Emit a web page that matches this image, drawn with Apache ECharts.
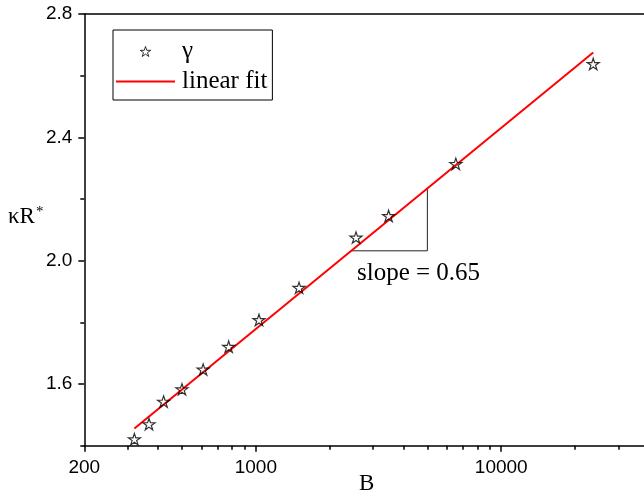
<!DOCTYPE html>
<html>
<head>
<meta charset="utf-8">
<script src="https://cdn.jsdelivr.net/npm/echarts@6/dist/echarts.min.js"></script>
<style>
html,body{margin:0;padding:0;background:#fff;}
#chart{width:644px;height:497px;}
</style>
</head>
<body>
<div id="chart"></div>
<script>
// ---- data ----
const B = [320, 367, 421, 500, 610, 775, 1030, 1500, 2560, 3475, 6530, 23700];
const gamma = [1.421, 1.470, 1.543, 1.583, 1.647, 1.721, 1.808, 1.912, 2.075, 2.145, 2.314, 2.638];
const fitB = [320, 23700];
const fitY = [1.456, 2.675];
const slopeB = [2450, 5000, 5000];
const slopeY = [2.032, 2.032, 2.234];
const xMajor = [200, 1000, 10000];
const xMinor = [300, 400, 500, 600, 700, 800, 900, 2000, 3000, 4000, 5000, 6000, 7000, 8000, 9000, 20000, 30000];
const yMajor = [1.6, 2.0, 2.4, 2.8];
const yMinor = [1.4, 1.8, 2.2, 2.6];
const seriesNames = ['γ', 'linear fit'];
const slopeText = 'slope = 0.65';

const starPath = 'path://M0,-100L22.5,-30.9L95.1,-30.9L36.3,11.8L58.8,80.9L0,38.2L-58.8,80.9L-36.3,11.8L-95.1,-30.9L-22.5,-30.9Z';
const linePath = 'path://M0,0L59,0L59,2L0,2Z';
const zip = (a, b) => a.map((v, i) => [v, b[i]]);

const chart = echarts.init(document.getElementById('chart'), null, {renderer: 'canvas'});
const sans = 'Liberation Sans';
const serif = 'Liberation Serif';
const xCommon = {type: 'log', min: 200, max: 40000, logBase: 10, splitLine: {show: false}};
const yCommon = {type: 'value', min: 1.4, max: 2.8, splitLine: {show: false}};

chart.setOption({
  animation: false,
  backgroundColor: '#fff',
  grid: {left: 84.3, top: 14, right: -5, bottom: 51.3, containLabel: false, outerBoundsMode: 'none'},
  legend: {
    data: [
      {name: seriesNames[0], icon: starPath, itemStyle: {color: '#fff', borderColor: '#000', borderWidth: 1}},
      {name: seriesNames[1], icon: linePath, itemStyle: {color: '#ff0000', borderWidth: 0}}
    ],
    orient: 'vertical',
    left: 113, top: 30,
    padding: [9, 5, 6, 3],
    itemGap: 5,
    itemWidth: 59, itemHeight: 10,
    borderColor: '#000', borderWidth: 1,
    textStyle: {fontFamily: serif, fontSize: 25, color: '#000', padding: [0, 0, 0, 2]}
  },
  xAxis: [
    Object.assign({}, xCommon, {
      position: 'bottom',
      axisLine: {show: true, lineStyle: {color: '#000', width: 1.5}},
      axisTick: {show: true, inside: false, length: 6, customValues: xMajor, lineStyle: {color: '#000', width: 1.5}},
      axisLabel: {show: true, customValues: xMajor, margin: 13, fontFamily: sans, fontSize: 19, color: '#000',
        formatter: v => String(Math.round(v))},
      name: 'B', nameLocation: 'middle', nameGap: 27, nameMoveOverlap: false,
      nameTextStyle: {fontFamily: serif, fontSize: 23, color: '#000'}
    }),
    Object.assign({}, xCommon, {
      position: 'bottom', offset: 0,
      axisLine: {show: false},
      axisTick: {show: true, inside: false, length: 4, customValues: xMinor, lineStyle: {color: '#000', width: 1.5}},
      axisLabel: {show: false}
    }),
    Object.assign({}, xCommon, {
      position: 'top', offset: 0,
      axisLine: {show: true, lineStyle: {color: '#000', width: 1.5}},
      axisTick: {show: false},
      axisLabel: {show: false}
    })
  ],
  yAxis: [
    Object.assign({}, yCommon, {
      position: 'left', offset: 0,
      axisLine: {show: true, lineStyle: {color: '#000', width: 1.5}},
      axisTick: {show: true, inside: false, length: 6, customValues: yMajor, lineStyle: {color: '#000', width: 1.5}},
      axisLabel: {show: true, customValues: yMajor, margin: 12, fontFamily: sans, fontSize: 19, color: '#000',
        formatter: v => v.toFixed(1)}
    }),
    Object.assign({}, yCommon, {
      position: 'left', offset: 0,
      axisLine: {show: false},
      axisTick: {show: true, inside: false, length: 4, customValues: yMinor, lineStyle: {color: '#000', width: 1.5}},
      axisLabel: {show: false}
    })
  ],
  graphic: [
    {
      type: 'text', left: 8, top: 205,
      style: {
        text: '{a|κR}{b|*}',
        rich: {
          a: {fontFamily: serif, fontSize: 23, fill: '#000'},
          b: {fontFamily: serif, fontSize: 15, fill: '#000', verticalAlign: 'top', padding: [0, 0, 9, 1]}
        }
      }
    },
    {
      type: 'text', x: 357, y: 273,
      style: {text: slopeText, fontFamily: serif, fontSize: 25, fill: '#000', verticalAlign: 'middle', align: 'left'}
    }
  ],
  series: [
    {
      name: 'linear fit', type: 'line', xAxisIndex: 0, yAxisIndex: 0,
      data: zip(fitB, fitY), symbol: 'none', z: 2,
      lineStyle: {color: '#ff0000', width: 2}, itemStyle: {color: '#ff0000'}
    },
    {
      name: 'slope', type: 'line', xAxisIndex: 0, yAxisIndex: 0,
      data: zip(slopeB, slopeY), symbol: 'none', z: 1,
      lineStyle: {color: '#222', width: 1}, silent: true
    },
    {
      name: 'γ', type: 'scatter', xAxisIndex: 0, yAxisIndex: 0,
      data: zip(B, gamma), symbol: starPath, symbolSize: 12, symbolKeepAspect: true, z: 3,
      itemStyle: {color: 'rgba(255,255,255,0)', borderColor: '#000', borderWidth: 1.2}
    }
  ]
});
</script>
</body>
</html>
